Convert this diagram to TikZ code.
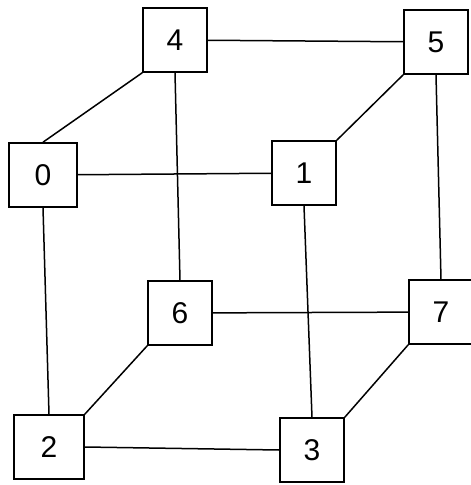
\documentclass[tikz,border=0pt]{standalone}
\usepackage{fontspec}
\setmainfont{Liberation Sans}
\begin{document}
\begin{tikzpicture}[x=1pt,y=-1pt,
  box/.style={draw=black, line width=1.6pt, fill=white, minimum width=64pt, minimum height=64pt, inner sep=0pt, font=\fontsize{30}{30}\selectfont},
  edge/.style={draw=black, line width=1.5pt}]
\clip (0,0) rectangle (471,485);
\fill[white] (0,0) rectangle (471,485);
\node[box] (n4) at (175,40) {4};
\node[box] (n5) at (436,42) {5};
\node[box, minimum width=68pt] (n0) at (43,175) {0};
\node[box] (n1) at (304,173) {1};
\node[box] (n6) at (180,313) {6};
\node[box] (n7) at (441,312) {7};
\node[box, minimum width=70pt] (n2) at (49,447) {2};
\node[box] (n3) at (312,450) {3};
\draw[edge] (n4) -- (n5);
\draw[edge] (n0) -- (n1);
\draw[edge] (n6) -- (n7);
\draw[edge] (n2.east) -- (n3.west);
\draw[edge] (n4.south west) -- (n0.north);
\draw[edge] (n5.south west) -- (n1.north east);
\draw[edge] (n6.south west) -- (n2.north east);
\draw[edge] (n7.south west) -- (n3.north east);
\draw[edge] (n4.south) -- (n6.north);
\draw[edge] (n0.south) -- (n2.north);
\draw[edge] (n1.south) -- (n3.north);
\draw[edge] (n5.south) -- (n7.north);
\end{tikzpicture}
\end{document}
